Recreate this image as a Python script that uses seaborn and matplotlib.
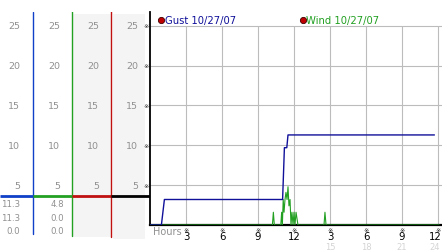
import matplotlib
matplotlib.use("Agg")
import matplotlib.pyplot as plt
from matplotlib.patches import Rectangle
import seaborn as sns
import pandas as pd

# ---------------- data ----------------
gust_hours = [0.0, 0.95, 1.2, 11.05, 11.2, 11.4, 11.5, 23.7]
gust_mph = [0.0, 0.0, 3.2, 3.2, 9.7, 9.7, 11.3, 11.3]

wind_hours = [0.0, 10.2, 10.28, 10.36, 10.9, 10.97, 11.03, 11.1, 11.17, 11.25,
              11.33, 11.42, 11.5, 11.58, 11.67, 11.75, 11.83, 11.92, 12.0,
              12.08, 12.17, 12.25, 12.33, 14.5, 14.58, 14.67, 24.1]
wind_mph = [0.0, 0.0, 1.6, 0.0, 0.0, 1.6, 0.0, 3.2, 1.6, 3.2,
            4.1, 3.2, 4.8, 2.4, 3.2, 0.0, 1.6, 0.0, 1.6,
            0.0, 1.6, 0.8, 0.0, 0.0, 1.6, 0.0, 0.0]

y_ticks = [5, 10, 15, 20, 25]
x_ticks = [3, 6, 9, 12, 15, 18, 21, 24]
x_labels = ["3", "6", "9", "12", "3", "6", "9", "12"]
x_labels_24h = ["", "", "", "", "15", "18", "21", "24"]
gust_readout = ["11.3", "11.3", "0.0"]
wind_readout = ["4.8", "0.0", "0.0"]
legend_labels = ["Gust 10/27/07", "Wind 10/27/07"]

# ---------------- style ----------------
sns.set_style("white")
plt.rcParams["font.family"] = ["DejaVu Sans"]

W, H = 442, 253
PPU = 7.97  # pixels per mph
GUST_C = "#10109a"
WIND_C = "#22a022"
BLUE_C = "#1040c8"
RED_C = "#c01010"
GRAY_T = "#909090"
GRID_C = "#bcbcbc"


def fig_box(x0, y0, x1, y1):
    return [x0 / W, 1 - y1 / H, (x1 - x0) / W, (y1 - y0) / H]


fig = plt.figure(figsize=(W / 100, H / 100), dpi=100)
fig.patch.set_facecolor("white")

# ---------------- left readout panel ----------------
lax = fig.add_axes(fig_box(0, 13, 150, 253))
lax.set_xlim(0, 150)
lax.set_ylim(-(253 - 226) / PPU, (226 - 13) / PPU)
lax.axis("off")


def yv(px):
    return (226 - px) / PPU


lax.add_patch(Rectangle((73, yv(238)), 38, yv(15) - yv(238), color="#f4f4f4", lw=0, zorder=0))
lax.add_patch(Rectangle((113, yv(240)), 32, yv(15) - yv(240), color="#f4f4f4", lw=0, zorder=0))

lax.plot([33, 33], [yv(12.5), yv(235)], color=BLUE_C, lw=1.0)
lax.plot([72, 72], [yv(12), yv(237)], color=WIND_C, lw=1.0)
lax.plot([111, 111], [yv(12), yv(238)], color=RED_C, lw=1.0)

cursor_y = yv(196.7)
for (a, b, c) in [(0, 33, BLUE_C), (33, 72, WIND_C), (72, 111, RED_C), (111, 150, "black")]:
    lax.plot([a, b], [cursor_y, cursor_y], color=c, lw=2.0, solid_capstyle="butt")

for xr in [20, 60, 99, 138]:
    for t in y_ticks:
        lax.text(xr, t, str(t), ha="right", va="center", fontsize=6.8, color=GRAY_T)

for i, (g, w) in enumerate(zip(gust_readout, wind_readout)):
    yy = yv(205 + i * 13.5)
    lax.text(20, yy, g, ha="right", va="center", fontsize=6.2, color=GRAY_T)
    lax.text(64, yy, w, ha="right", va="center", fontsize=6.2, color=GRAY_T)

# ---------------- main chart ----------------
ax = fig.add_axes(fig_box(150, 13, 442, 226))
ax.set_facecolor("white")
xmax = (442 - 150) / 12
ax.set_xlim(0, xmax)
ax.set_ylim(0, (226 - 13) / PPU)

ax.hlines(y_ticks, 0, xmax, color=GRID_C, lw=0.8, zorder=1)
ax.vlines(x_ticks, 0, 25, color=GRID_C, lw=0.8, zorder=1)

df_g = pd.DataFrame({"hour": gust_hours, "mph": gust_mph})
df_w = pd.DataFrame({"hour": wind_hours, "mph": wind_mph})
sns.lineplot(data=df_w, x="hour", y="mph", ax=ax, color=WIND_C, lw=0.8,
             estimator=None, sort=False, zorder=3)
sns.lineplot(data=df_g, x="hour", y="mph", ax=ax, color=GUST_C, lw=1.0,
             estimator=None, sort=False, zorder=4)

ax.set_xticks([])
ax.set_yticks([])
ax.set_xlabel("")
ax.set_ylabel("")
for s in ["top", "right"]:
    ax.spines[s].set_visible(False)
ax.spines["left"].set_linewidth(1.3)
ax.spines["left"].set_color("black")
ax.spines["bottom"].set_linewidth(1.6)
ax.spines["bottom"].set_color("black")

# y tick markers
for t in y_ticks:
    ax.text(-0.3, t, "\u203b", ha="center", va="center", fontsize=4.5, color="#222222")

# x tick markers and labels
for xt, lab, lab2 in zip(x_ticks, x_labels, x_labels_24h):
    ax.text(xt, yv(230.5), "\u203b", ha="center", va="center", fontsize=4.5,
            color="#222222", clip_on=False)
    ax.text(min(xt, 23.75), yv(237.5), lab, ha="center", va="center", fontsize=7.3,
            color="black", clip_on=False)
    if lab2:
        ax.text(min(xt, 23.75), yv(248), lab2, ha="center", va="center", fontsize=6,
                color="#d4d4d4", clip_on=False)

ax.text(0.25, yv(232), "Hours", ha="left", va="center", fontsize=7, color=GRAY_T)

# legend
leg_y = yv(20.8)
for x0, lab, c in [((161 - 150) / 12, legend_labels[0], GUST_C),
                   ((302.5 - 150) / 12, legend_labels[1], WIND_C)]:
    ax.plot([x0], [leg_y], marker="o", markersize=4.5, color="#c00000",
            mec="#400000", mew=0.6, clip_on=False, zorder=6)
    ax.text(x0 + 0.33, leg_y, lab, ha="left", va="center", fontsize=7.2, color=c)

fig.savefig("out.png", dpi=100, facecolor="white")
